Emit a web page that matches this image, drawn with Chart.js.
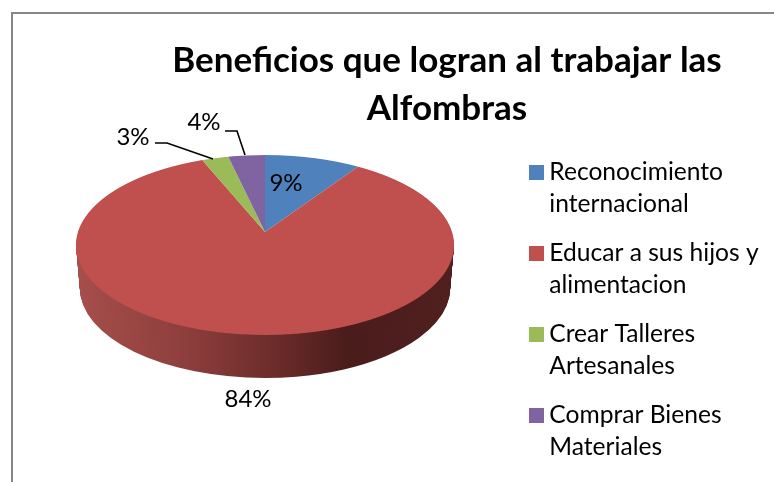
<!DOCTYPE html>
<html>
<head>
<meta charset="utf-8">
<script src="https://cdn.jsdelivr.net/npm/chart.js@4/dist/chart.umd.min.js"></script>
<style>
    body { margin: 0; background: #fff; }
    #frame { position: absolute; left: 11px; top: 12px; right: 0; bottom: 0; border-left: 2px solid #868686; border-top: 2px solid #868686; }
    canvas { position: absolute; left: 0; top: 0; }
</style>
</head>
<body>
<div id="frame"></div>
<canvas id="pie" width="774" height="482"></canvas>
<script>
const categories = [['Reconocimiento', 'internacional'], ['Educar a sus hijos y', 'alimentacion'], ['Crear Talleres', 'Artesanales'], ['Comprar Bienes', 'Materiales']];
const values = [9.4, 84.4, 2.6, 3.6];
const colors = ['#4f81bd', '#c0504d', '#9bbb59', '#8064a2'];
const titleLines = ['Beneficios que logran al trabajar las', 'Alfombras'];

// where the percent labels go, and their leader lines (same order as values)
const labelSpots = [[286, 183], [248, 399], [133, 137], [204, 122]];
const leaders = [null, null, [[155, 143], [167, 143], [213, 159]], [[225, 131], [237, 131], [245, 155]]];

const R = 189;
const CX = 265;
const DEPTH = 43;

// perspective of the pie top: maps -1..1 on the circle to the screen y
const pa = 54.6, pb = 232, pc = -0.1444, pk = 0.9895;

function drawTop(ctx, chart, arcs) {
    for (let y = 150; y < 340; y++) {
        const yy = y + 0.5;
        const v = (yy - pb) / (pa - pc * yy);
        if (Math.abs(v) > 1.02) continue;
        const d = 1 + pc * v;
        const sx = pk / d;
        const sy = (pa - pb * pc) / (d * d) / R;
        ctx.save();
        ctx.beginPath();
        ctx.rect(0, y, chart.width, 1);
        ctx.clip();
        arcs.forEach(el => {
            ctx.save();
            ctx.setTransform(sx, 0, 0, sy, CX - sx * el.x, yy - sy * (el.y + v * R));
            el.draw(ctx);
            ctx.restore();
        });
        ctx.restore();
    }
}

function drawSide(ctx, el) {
    const grad = ctx.createLinearGradient(el.x - R, 0, el.x + R, 0);
    grad.addColorStop(0, '#a64e4b');
    grad.addColorStop(0.28, '#8e3f3d');
    grad.addColorStop(0.5, '#702e2c');
    grad.addColorStop(0.72, '#4a1c1b');
    grad.addColorStop(1, '#50201f');
    const saved = el.options;
    el.options = Object.assign({}, saved, { backgroundColor: grad, borderWidth: 0 });
    for (let d = DEPTH; d > 0; d--) {
        const sx = 1 - 0.02 * d / DEPTH;
        ctx.save();
        ctx.setTransform(sx, 0, 0, 90 / R, CX - sx * el.x, 245 + d - 90 / R * el.y);
        el.draw(ctx);
        ctx.restore();
    }
    el.options = saved;
}

// legend swatch: wider than the box slot so the text sits close to it
function swatch(color) {
    const c = document.createElement('canvas');
    c.width = 15;
    c.height = 15;
    const g = c.getContext('2d');
    g.fillStyle = color;
    g.fillRect(0, 0, 15, 15);
    return c;
}

const pie3d = {
    id: 'pie3d',
    afterLayout(chart) {
        chart.titleBlock.left = 120;
        chart.titleBlock.right = 774;
        chart.titleBlock.top = 37;
        chart.legend.left = 519;
        chart.legend.top = 143;
    },
    beforeDatasetsDraw(chart) {
        const ctx = chart.ctx;
        const arcs = chart.getDatasetMeta(0).data;
        drawSide(ctx, arcs[1]);
        drawTop(ctx, chart, arcs);
        return false;
    },
    afterDraw(chart) {
        const ctx = chart.ctx;
        ctx.save();
        ctx.fillStyle = '#000';
        ctx.font = '24px Lato';
        ctx.textAlign = 'center';
        ctx.textBaseline = 'middle';
        values.forEach((v, i) => ctx.fillText(Math.round(v) + '%', labelSpots[i][0], labelSpots[i][1]));
        ctx.strokeStyle = '#000';
        ctx.lineWidth = 1.6;
        leaders.forEach(pts => {
            if (!pts) return;
            ctx.beginPath();
            pts.forEach((p, i) => i ? ctx.lineTo(p[0], p[1]) : ctx.moveTo(p[0], p[1]));
            ctx.stroke();
        });
        ctx.restore();
    }
};

new Chart(document.getElementById('pie').getContext('2d'), {
    type: 'pie',
    data: {
        labels: categories,
        datasets: [{
            data: values,
            backgroundColor: colors,
            borderWidth: 0,
            radius: R
        }]
    },
    options: {
        responsive: false,
        animation: false,
        plugins: {
            title: {
                display: true,
                text: titleLines,
                color: '#000',
                padding: 0,
                font: { family: 'Lato', size: 35, weight: 'bold', lineHeight: 1.37 }
            },
            legend: {
                position: 'right',
                align: 'start',
                labels: {
                    color: '#000',
                    usePointStyle: true,
                    boxWidth: 1,
                    padding: 17,
                    font: { family: 'Lato', size: 24.6, lineHeight: 1.3 },
                    generateLabels(chart) {
                        return Chart.overrides.pie.plugins.legend.labels.generateLabels(chart)
                            .map((item, i) => Object.assign(item, { pointStyle: swatch(colors[i]) }));
                    }
                }
            },
            tooltip: { enabled: false }
        }
    },
    plugins: [pie3d]
});
</script>
</body>
</html>
